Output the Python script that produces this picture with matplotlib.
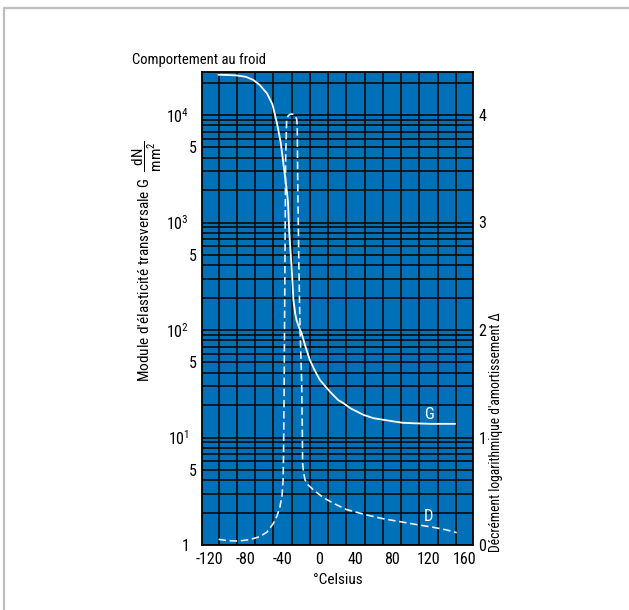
import numpy as np
import matplotlib
matplotlib.use("Agg")
from matplotlib import pyplot as plt
from matplotlib import font_manager
from matplotlib.lines import Line2D
from matplotlib.ticker import FixedLocator, FixedFormatter

# narrow font if there is one, otherwise Liberation Sans
installed = {f.name for f in font_manager.fontManager.ttflist}
face = 'Liberation Sans'
for cand in ['Liberation Sans Narrow', 'Roboto Condensed', 'DejaVu Sans Condensed']:
    if cand in installed:
        face = cand
        break
plt.rcParams['font.family'] = [face, 'DejaVu Sans']
plt.rcParams['mathtext.fontset'] = 'custom'
plt.rcParams['mathtext.rm'] = face
plt.rcParams['mathtext.it'] = face + ':italic'
plt.rcParams['mathtext.bf'] = face + ':bold'

# --- data ---
# shear modulus G (dN/mm2) versus temperature
temp_g = [-110, -100, -90, -80, -72, -65, -57, -51, -46, -42, -39, -36, -34,
          -32.5, -30, -28, -26, -24.5, -22, -19, -15, -10, -5, 1, 12, 21, 27,
          35, 49, 60, 71, 82, 92, 105, 122, 135, 149]
modulus_g = [23700, 23550, 23330, 22650, 21200, 19050, 15900, 12600, 8400,
             5600, 3550, 2240, 1580, 790, 390, 190, 142, 123, 107, 93, 71,
             52.6, 42.7, 34.3, 26.7, 22.3, 20.8, 18.6, 16.2, 15.1, 14.6, 14.1,
             13.7, 13.55, 13.4, 13.4, 13.4]

# logarithmic damping decrement D versus temperature
temp_d = [-110, -100, -88, -76, -65, -57, -50, -46, -42.7, -40.5, -39.3, -38.8,
          -38.3, -37.5, -37.0, -36.5, -35.4, -34, -32, -30, -28, -26, -24.4,
          -23.8, -23.4, -23.0, -22, -20.8, -19.0, -18.3, -17.9, -17.0, -15.3,
          -12, -6.2, 5, 15.7, 30, 52, 70, 89, 107, 125, 140, 151]
decrement_d = [0.053, 0.04, 0.037, 0.05, 0.077, 0.12, 0.2, 0.27, 0.357, 0.46,
               0.6, 0.85, 1.3, 2.3, 3.0, 3.59, 3.96, 3.99, 4.005, 4.01, 4.005,
               3.99, 3.96, 3.9, 3.5, 3.2, 2.6, 2.03, 1.54, 1.1, 0.76, 0.68,
               0.606, 0.56, 0.513, 0.44, 0.389, 0.33, 0.28, 0.245, 0.217, 0.19,
               0.165, 0.14, 0.115]

x_ticks = [-120, -80, -40, 0, 40, 80, 120, 160]
x_grid = list(range(-110, 151, 20))
g_major = [1, 10, 100, 1000, 10000]
g_major_labels = ['1', '$10^1$', '$10^2$', '$10^3$', '$10^4$']
d_ticks = [0, 1, 2, 3, 4]

blue = '#0070b8'
gridc = '#0a0a0a'
tick_fs = 11.5
lab_fs = 11

fig = plt.figure(figsize=(6.29, 6.10), dpi=100)
ax = fig.add_axes([201.7 / 629, 1 - 545 / 610, (473 - 201.7) / 629, (545 - 72) / 610])
ax.set_facecolor(blue)
ax.set_yscale('log')
ax.set_xlim(-128.5, 168.8)
ax.set_ylim(1, 10 ** 4.40)

# grid
for xg in x_grid:
    ax.axvline(xg, color=gridc, lw=1.2, zorder=1)
minor = []
for dec in [1, 10, 100, 1000, 10000]:
    for m in range(2, 10):
        if dec * m < 10 ** 4.40:
            minor.append(dec * m)
for yg in g_major + minor:
    ax.axhline(yg, color=gridc, lw=1.2, zorder=1)

ax.xaxis.set_major_locator(FixedLocator(x_ticks))
ax.set_xticklabels([str(v) for v in x_ticks])
ax.yaxis.set_major_locator(FixedLocator(g_major))
ax.yaxis.set_major_formatter(FixedFormatter(g_major_labels))
ax.yaxis.set_minor_locator(FixedLocator(minor))
ax.yaxis.set_minor_formatter(FixedFormatter(['5' if str(int(v))[0] == '5' else '' for v in minor]))
ax.tick_params(axis='x', length=0, pad=5, labelsize=tick_fs)
ax.tick_params(axis='y', which='major', length=0, pad=9, labelsize=tick_fs)
ax.tick_params(axis='y', which='minor', length=0, pad=3.5, labelsize=tick_fs)
for s in ax.spines.values():
    s.set_color('black')
    s.set_linewidth(1.3)

ax.plot(temp_g, modulus_g, color='white', lw=1.3, zorder=3)
ax.text(121.6, 16.4, 'G', color='white', fontsize=12, ha='center', va='center', zorder=4)

ax2 = ax.twinx()
ax2.set_ylim(0, 4.40)
ax2.set_yticks(d_ticks)
ax2.set_yticklabels([str(v) for v in d_ticks])
ax2.tick_params(axis='y', length=0, pad=4, labelsize=tick_fs)
ax2.plot(temp_d, decrement_d, color='#e8f1fa', lw=1.2, dashes=(4.5, 2.2), zorder=3)
ax2.text(120, 0.264, 'D', color='white', fontsize=12, ha='center', va='center')
for s in ax2.spines.values():
    s.set_visible(False)

ax.set_xlabel('°Celsius', fontsize=lab_fs, labelpad=4)

fig.text(131.7 / 629, 1 - 60 / 610, 'Comportement au froid', fontsize=10.5,
         ha='left', va='center')
fig.text(147 / 629, 1 - 261 / 610,
         r"Module d'élasticité transversale G  $\dfrac{\mathrm{dN}}{\mathrm{mm}^2}$",
         rotation=90, ha='center', va='center', fontsize=lab_fs)
fig.text(496 / 629, 1 - 552 / 610, "Décrément logarithmique d'amortissement Δ",
         rotation=90, ha='center', va='bottom', fontsize=9.8)

# frame fragment at top/left of the page
fig.add_artist(Line2D([4 / 629, 4 / 629, 1], [0, 1 - 8 / 610, 1 - 8 / 610],
                      transform=fig.transFigure, color='#bdbdbd', lw=1.6))

fig.savefig('out.png', dpi=100)
